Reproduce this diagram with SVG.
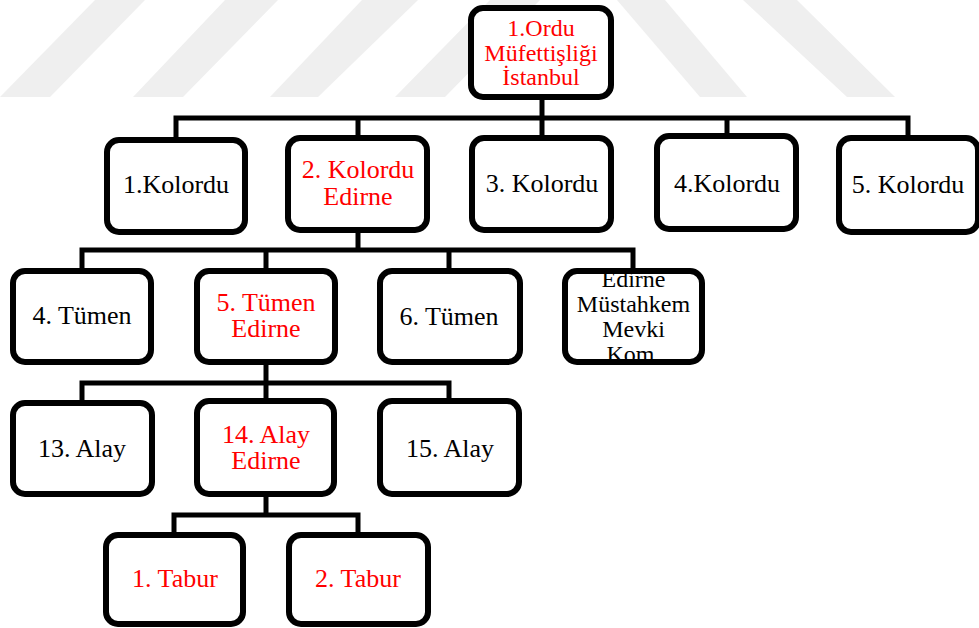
<svg xmlns="http://www.w3.org/2000/svg" width="979" height="628" viewBox="0 0 979 628">
<style>
.box{fill:#fff;stroke:#000;stroke-width:6}
.edge{fill:none;stroke:#000;stroke-width:6}
.conn{fill:none;stroke:#000;stroke-width:5;stroke-linejoin:miter;stroke-linecap:butt}
text{font-family:"Liberation Serif","Times New Roman",serif;font-size:26px;text-anchor:middle;fill:#000}
.red{fill:#ff0000}
.wm{fill:#efefef}
</style>
<rect width="979" height="628" fill="#fff"/>
<g id="watermark">
<polygon class="wm" points="0,97 50,97 145,0 95,0"/>
<polygon class="wm" points="133,97 183,97 278,0 225,0"/>
<polygon class="wm" points="270,97 318,97 418,0 362,0"/>
<polygon class="wm" points="395,97 445,97 540,0 490,0"/>
<polygon class="wm" points="617,0 665,0 747,97 700,97"/>
<polygon class="wm" points="743,0 797,0 895,97 847,97"/>
</g>
<g id="connectors">
<path class="conn" d="M542 100 V118"/>
<path class="conn" d="M176 138 V118 H908 V136"/>
<path class="conn" d="M358 118 V136 M542 118 V136 M727 118 V134"/>
<path class="conn" d="M358 233 V250"/>
<path class="conn" d="M82 269 V250 H633 V269"/>
<path class="conn" d="M266 250 V269 M449 250 V269"/>
<path class="conn" d="M266 365 V399"/>
<path class="conn" d="M82 401 V383 H449 V399"/>
<path class="conn" d="M266 497 V515"/>
<path class="conn" d="M174 533 V515 H358 V533"/>
</g>
<g id="n-ordu">
<rect class="box" x="471" y="8" width="140" height="89" rx="12"/>
<text class="red" x="541" y="36" style="font-size:24px">1.Ordu</text>
<text class="red" x="541" y="61" style="font-size:24px">Müfettişliği</text>
<text class="red" x="541" y="85" style="font-size:24px">İstanbul</text>
</g>
<g id="n-k1">
<rect class="box" x="107" y="140" width="138" height="92" rx="12"/>
<text x="176" y="193">1.Kolordu</text>
</g>
<g id="n-k2">
<rect class="box" x="288" y="138" width="139" height="92" rx="12"/>
<text class="red" x="358" y="178">2. Kolordu</text>
<text class="red" x="358" y="205">Edirne</text>
</g>
<g id="n-k3">
<rect class="box" x="472" y="138" width="139" height="92" rx="12"/>
<text x="542" y="192">3. Kolordu</text>
</g>
<g id="n-k4">
<rect class="box" x="657" y="136" width="139" height="93" rx="12"/>
<text x="727" y="192">4.Kolordu</text>
</g>
<g id="n-k5">
<rect class="box" x="839" y="138" width="139" height="94" rx="12"/>
<text x="908" y="193">5. Kolordu</text>
</g>
<g id="n-t4">
<rect class="box" x="13" y="271" width="138" height="91" rx="12"/>
<text x="82" y="324">4. Tümen</text>
</g>
<g id="n-t5">
<rect class="box" x="197" y="271" width="138" height="91" rx="12"/>
<text class="red" x="266" y="311">5. Tümen</text>
<text class="red" x="266" y="337">Edirne</text>
</g>
<g id="n-t6">
<rect class="box" x="380" y="271" width="140" height="91" rx="12"/>
<text x="449" y="325">6. Tümen</text>
</g>
<g id="n-emmk">
<rect x="565" y="271" width="137" height="91" rx="12" fill="#fff"/>
<text x="633.5" y="287" style="font-size:24px">Edirne</text>
<text x="633.5" y="312" style="font-size:24px">Müstahkem</text>
<text x="633.5" y="337" style="font-size:24px">Mevki</text>
<text x="633.5" y="362" style="font-size:24px">Kom.</text>
<rect class="edge" x="565" y="271" width="137" height="91" rx="12"/>
</g>
<g id="n-a13">
<rect class="box" x="13" y="403" width="139" height="91" rx="12"/>
<text x="82" y="457">13. Alay</text>
</g>
<g id="n-a14">
<rect class="box" x="197" y="401" width="137" height="93" rx="12"/>
<text class="red" x="266" y="443">14. Alay</text>
<text class="red" x="266" y="469">Edirne</text>
</g>
<g id="n-a15">
<rect class="box" x="380" y="401" width="139" height="93" rx="12"/>
<text x="450" y="457">15. Alay</text>
</g>
<g id="n-tb1">
<rect class="box" x="106" y="535" width="137" height="89" rx="12"/>
<text class="red" x="175" y="587">1. Tabur</text>
</g>
<g id="n-tb2">
<rect class="box" x="289" y="535" width="139" height="89" rx="12"/>
<text class="red" x="358" y="587">2. Tabur</text>
</g>
</svg>
